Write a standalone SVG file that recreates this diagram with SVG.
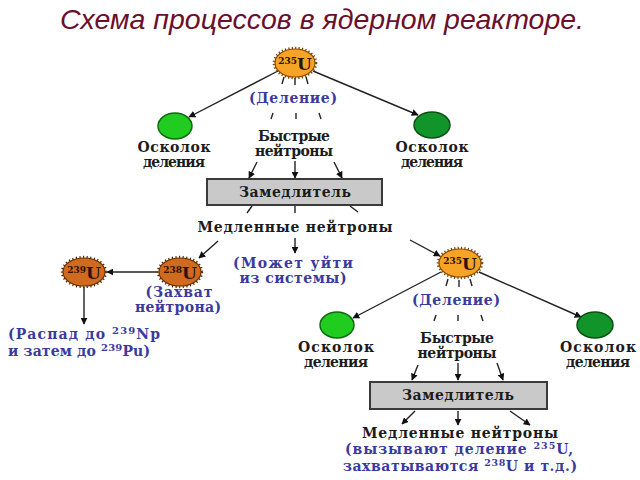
<svg xmlns="http://www.w3.org/2000/svg" width="640" height="480" viewBox="0 0 640 480">
<style>
.t{font-family:"DejaVu Serif","Liberation Serif",serif;font-weight:bold;font-size:14px;fill:#1c1c1c;text-anchor:middle}
.b{fill:#3a3a9e}
.title{font-family:"Liberation Sans",Arial,sans-serif;font-style:italic;font-size:28.5px;fill:#6b0f2e;text-anchor:middle}
.u235{fill:#f6a326;stroke:#8a4a00;stroke-width:1.2}
.u238{fill:#cf6a1e;stroke:#6a3000;stroke-width:1.2}
.spk{fill:none;stroke:#7a4200;stroke-width:2.6;stroke-dasharray:1.2 2.2}
.spk2{fill:none;stroke:#5a2a00;stroke-width:2.4;stroke-dasharray:1.2 2.4}
.g1{fill:#1fcc1f;stroke:#0c6a0c;stroke-width:1.5}
.g2{fill:#11952a;stroke:#0a5014;stroke-width:1.5}
.ul{font-family:"DejaVu Serif","Liberation Serif",serif;font-weight:bold;fill:#2a1200;text-anchor:middle}
.box{fill:#c9c9c9;stroke:#3a3a3a;stroke-width:2}
.c{stroke:#222;stroke-width:1.4;fill:none}
.a{marker-end:url(#ah)}
</style>
<defs>
<marker id="ah" viewBox="0 0 10 10" refX="9" refY="5" markerWidth="7" markerHeight="7" markerUnits="userSpaceOnUse" orient="auto">
<path d="M0,0 L10,5 L0,10 z" fill="#111"/>
</marker>
</defs>
<rect width="640" height="480" fill="#fff"/>
<text class="title" x="322" y="29">Схема процессов в ядерном реакторе.</text>

<g id="connectors">
<line class="c a" x1="278" y1="71" x2="189" y2="117"/>
<line class="c a" x1="313" y1="71" x2="418" y2="115"/>
<line class="c" x1="284" y1="77" x2="282" y2="84"/>
<line class="c" x1="295" y1="78" x2="295" y2="85"/>
<line class="c" x1="306" y1="77" x2="308" y2="84"/>
<line class="c" x1="273" y1="113" x2="271" y2="119"/>
<line class="c" x1="296" y1="113" x2="296" y2="119"/>
<line class="c" x1="319" y1="113" x2="321" y2="119"/>
<line class="c a" x1="257" y1="162" x2="249" y2="178"/>
<line class="c a" x1="295" y1="161" x2="295" y2="178"/>
<line class="c a" x1="334" y1="162" x2="342" y2="178"/>
<line class="c" x1="252" y1="206" x2="247" y2="213"/>
<line class="c" x1="295" y1="206" x2="295" y2="213"/>
<line class="c" x1="350" y1="206" x2="358" y2="212"/>
<line class="c a" x1="295" y1="238" x2="295" y2="253"/>
<line class="c a" x1="218" y1="241" x2="199" y2="258"/>
<line class="c a" x1="410" y1="240" x2="440" y2="256"/>
<line class="c a" x1="158" y1="272" x2="107" y2="272"/>
<line class="c a" x1="84" y1="287" x2="84" y2="324"/>
<line class="c a" x1="441" y1="272" x2="353" y2="318"/>
<line class="c a" x1="479" y1="272" x2="581" y2="317"/>
<line class="c" x1="448" y1="279" x2="446" y2="286"/>
<line class="c" x1="459" y1="280" x2="459" y2="287"/>
<line class="c" x1="470" y1="279" x2="472" y2="286"/>
<line class="c" x1="436" y1="315" x2="434" y2="321"/>
<line class="c" x1="458" y1="315" x2="458" y2="321"/>
<line class="c" x1="481" y1="315" x2="483" y2="321"/>
<line class="c a" x1="418" y1="365" x2="412" y2="380"/>
<line class="c a" x1="458" y1="363" x2="458" y2="380"/>
<line class="c a" x1="497" y1="363" x2="503" y2="380"/>
<line class="c a" x1="415" y1="411" x2="402" y2="424"/>
<line class="c a" x1="458" y1="411" x2="458" y2="425"/>
<line class="c a" x1="510" y1="411" x2="530" y2="425"/>
</g>

<g id="u235-top">
<ellipse class="spk" cx="295" cy="63" rx="21" ry="15"/>
<ellipse class="u235" cx="295" cy="63" rx="20" ry="14"/>
<text class="ul" x="295" y="70"><tspan font-size="9" dy="-6">235</tspan><tspan font-size="17" dy="6">U</tspan></text>
</g>
<g id="division-1"><text class="t b" x="293" y="103" textLength="88">(Деление)</text></g>
<g id="fragment-1l">
<ellipse class="g1" cx="175" cy="126" rx="17" ry="13"/>
<text class="t" x="174" y="152" textLength="73">Осколок</text>
<text class="t" x="174" y="167" textLength="62">деления</text>
</g>
<g id="fragment-1r">
<ellipse class="g2" cx="432" cy="125" rx="18" ry="13"/>
<text class="t" x="432" y="152" textLength="73">Осколок</text>
<text class="t" x="432" y="167" textLength="62">деления</text>
</g>
<g id="fast-1">
<text class="t" x="294" y="141" textLength="72">Быстрые</text>
<text class="t" x="294" y="156" textLength="78">нейтроны</text>
</g>
<g id="moderator-1">
<rect class="box" x="207" y="179" width="175" height="26"/>
<text class="t" x="295" y="197" textLength="112">Замедлитель</text>
</g>
<g id="slow-1"><text class="t" x="295" y="232" textLength="195">Медленные нейтроны</text></g>
<g id="escape">
<text class="t b" x="293" y="268" textLength="120">(Может уйти</text>
<text class="t b" x="293" y="283" textLength="107">из системы)</text>
</g>
<g id="u238">
<ellipse class="spk2" cx="180" cy="272" rx="22" ry="15"/>
<ellipse class="u238" cx="180" cy="272" rx="21" ry="14"/>
<text class="ul" x="180" y="279"><tspan font-size="9" dy="-6">238</tspan><tspan font-size="17" dy="6">U</tspan></text>
<text class="t b" x="179" y="297" textLength="67">(Захват</text>
<text class="t b" x="178" y="312" textLength="86">нейтрона)</text>
</g>
<g id="u239">
<ellipse class="spk2" cx="84" cy="272" rx="22" ry="15"/>
<ellipse class="u238" cx="84" cy="272" rx="21" ry="14"/>
<text class="ul" x="84" y="279"><tspan font-size="9" dy="-6">239</tspan><tspan font-size="17" dy="6">U</tspan></text>
</g>
<g id="decay">
<text class="t b" x="8" y="339" style="text-anchor:start" textLength="152">(Распад до <tspan font-size="10" dy="-5">239</tspan><tspan dy="5">Np</tspan></text>
<text class="t b" x="8" y="356" style="text-anchor:start" textLength="142">и затем до <tspan font-size="10" dy="-5">239</tspan><tspan dy="5">Pu)</tspan></text>
</g>
<g id="u235-second">
<ellipse class="spk" cx="460" cy="263" rx="22" ry="15"/>
<ellipse class="u235" cx="460" cy="263" rx="21" ry="14"/>
<text class="ul" x="460" y="270"><tspan font-size="9" dy="-6">235</tspan><tspan font-size="17" dy="6">U</tspan></text>
</g>
<g id="division-2"><text class="t b" x="456" y="305" textLength="88">(Деление)</text></g>
<g id="fragment-2l">
<ellipse class="g1" cx="337" cy="325" rx="17" ry="13"/>
<text class="t" x="336" y="352" textLength="76">Осколок</text>
<text class="t" x="336" y="367" textLength="64">деления</text>
</g>
<g id="fragment-2r">
<ellipse class="g2" cx="595" cy="325" rx="18" ry="13"/>
<text class="t" x="598" y="352" textLength="76">Осколок</text>
<text class="t" x="598" y="367" textLength="64">деления</text>
</g>
<g id="fast-2">
<text class="t" x="457" y="343" textLength="74">Быстрые</text>
<text class="t" x="457" y="358" textLength="79">нейтроны</text>
</g>
<g id="moderator-2">
<rect class="box" x="370" y="382" width="177" height="27"/>
<text class="t" x="458" y="400" textLength="112">Замедлитель</text>
</g>
<g id="slow-2">
<text class="t" x="460" y="438" textLength="196">Медленные нейтроны</text>
<text class="t b" x="459" y="454" textLength="228">(вызывают деление <tspan font-size="9.5" dy="-5">235</tspan><tspan dy="5">U,</tspan></text>
<text class="t b" x="460" y="471" textLength="234">захватываются <tspan font-size="9.5" dy="-5">238</tspan><tspan dy="5">U и т.д.)</tspan></text>
</g>
</svg>
